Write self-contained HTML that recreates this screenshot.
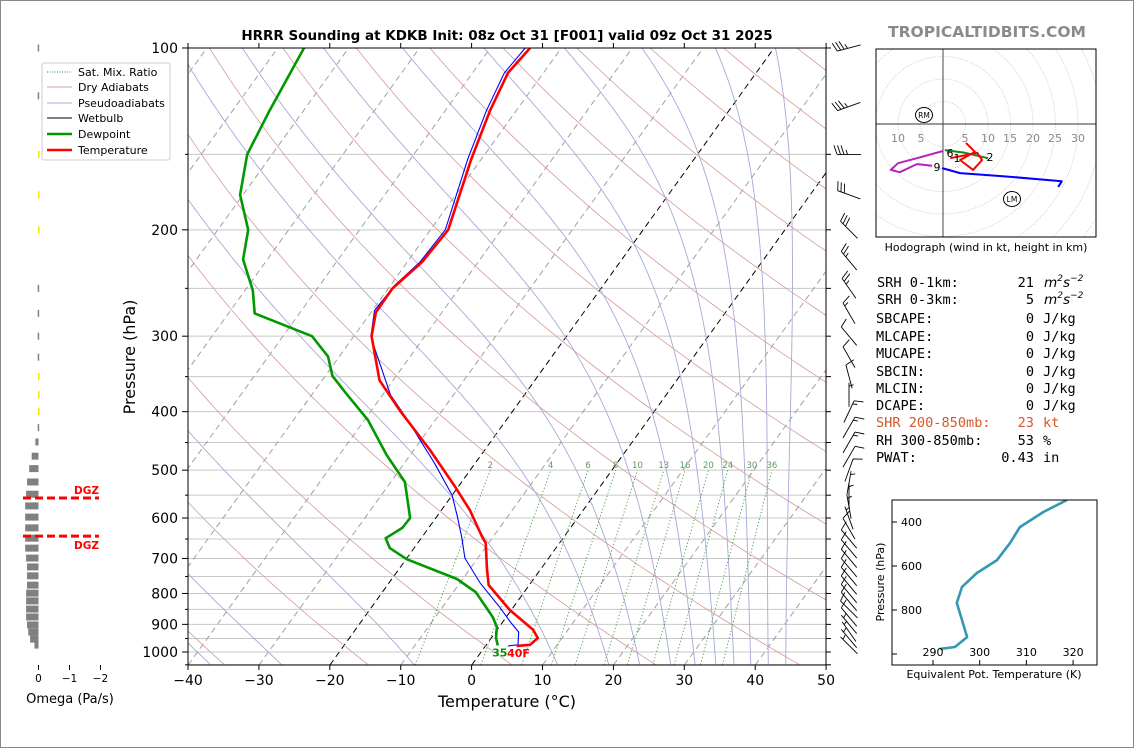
<!DOCTYPE html>
<html><head><meta charset="utf-8"><style>
html,body{margin:0;padding:0;background:#fff}
svg{display:block;font-family:"DejaVu Sans","Liberation Sans",sans-serif}
</style></head><body>
<svg id="s" width="1134" height="748" viewBox="0 0 1134 748" xmlns="http://www.w3.org/2000/svg">
<rect x="0.5" y="0.5" width="1133" height="747" fill="#fff" stroke="#888"/>
<defs>
<clipPath id="mainclip"><rect x="188" y="48" width="638" height="617"/></clipPath>
<clipPath id="hodoclip"><rect x="876" y="49" width="220" height="188"/></clipPath>
<clipPath id="theclip"><rect x="892" y="500" width="205" height="165"/></clipPath>
</defs>
<g id="bg" clip-path="url(#mainclip)"></g>
<g id="prof" clip-path="url(#mainclip)"></g>
<g id="axes"></g>
<g id="barbs"></g>
<g id="omega"></g>
<g id="hodo"></g>
<g id="thetae"></g>

<text x="507" y="40" text-anchor="middle" font-size="13.5" font-weight="bold">HRRR Sounding at KDKB Init: 08z Oct 31 [F001] valid 09z Oct 31 2025</text>
<text x="987" y="37" text-anchor="middle" font-size="15.5" font-weight="bold" fill="#8a8a8a">TROPICALTIDBITS.COM</text>
<text x="507" y="707" text-anchor="middle" font-size="16">Temperature (°C)</text>
<text transform="translate(135,357) rotate(-90)" text-anchor="middle" font-size="16">Pressure (hPa)</text>

<g>
<rect x="42" y="63" width="128" height="97" fill="#fff" stroke="#ccc" rx="2"/>
<line x1="47" y1="72" x2="72" y2="72" stroke="#2e8b2e" stroke-dasharray="1,1.5"/>
<text x="78" y="76" font-size="11">Sat. Mix. Ratio</text>
<line x1="47" y1="87" x2="72" y2="87" stroke="#d9a0a0"/>
<text x="78" y="91" font-size="11">Dry Adiabats</text>
<line x1="47" y1="103" x2="72" y2="103" stroke="#a8a8d8"/>
<text x="78" y="107" font-size="11">Pseudoadiabats</text>
<line x1="47" y1="118" x2="72" y2="118" stroke="#000"/>
<text x="78" y="122" font-size="11">Wetbulb</text>
<line x1="47" y1="134" x2="72" y2="134" stroke="#009900" stroke-width="2.5"/>
<text x="78" y="138" font-size="11">Dewpoint</text>
<line x1="47" y1="150" x2="72" y2="150" stroke="#ff0000" stroke-width="2.5"/>
<text x="78" y="154" font-size="11">Temperature</text>
</g>

<g font-family="DejaVu Sans Mono,Liberation Mono,monospace" font-size="13.6">
<text x="877" y="287">SRH 0-1km:</text><text x="1034" y="287" text-anchor="end">21</text><text x="1044" y="287" font-style="italic" font-family="DejaVu Sans,sans-serif">m<tspan dy="-6" font-size="9">2</tspan><tspan dy="6">s</tspan><tspan dy="-6" font-size="9">−2</tspan></text>
<text x="877" y="304">SRH 0-3km:</text><text x="1034" y="304" text-anchor="end">5</text><text x="1044" y="304" font-style="italic" font-family="DejaVu Sans,sans-serif">m<tspan dy="-6" font-size="9">2</tspan><tspan dy="6">s</tspan><tspan dy="-6" font-size="9">−2</tspan></text>
<text x="876" y="323">SBCAPE:</text><text x="1034" y="323" text-anchor="end">0</text><text x="1043" y="323">J/kg</text>
<text x="876" y="341">MLCAPE:</text><text x="1034" y="341" text-anchor="end">0</text><text x="1043" y="341">J/kg</text>
<text x="876" y="358">MUCAPE:</text><text x="1034" y="358" text-anchor="end">0</text><text x="1043" y="358">J/kg</text>
<text x="876" y="376">SBCIN:</text><text x="1034" y="376" text-anchor="end">0</text><text x="1043" y="376">J/kg</text>
<text x="876" y="393">MLCIN:</text><text x="1034" y="393" text-anchor="end">0</text><text x="1043" y="393">J/kg</text>
<text x="876" y="410">DCAPE:</text><text x="1034" y="410" text-anchor="end">0</text><text x="1043" y="410">J/kg</text>
<text x="876" y="427" fill="#d4582c">SHR 200-850mb:</text><text x="1034" y="427" text-anchor="end" fill="#d4582c">23</text><text x="1043" y="427" fill="#d4582c">kt</text>
<text x="876" y="445">RH 300-850mb:</text><text x="1034" y="445" text-anchor="end">53</text><text x="1043" y="445">%</text>
<text x="876" y="462">PWAT:</text><text x="1034" y="462" text-anchor="end">0.43</text><text x="1043" y="462">in</text>
</g>
</svg>
<script>
// ---------- data ----------
const tempP = [977,973,948,919,852,775,731,660,645,582,533,463,398,355,300,274,250,226,200,153,127,110,100];
const tempT = [4.4,6.2,6.6,5.1,-0.2,-5.7,-7.5,-10.4,-11.5,-16.0,-20.4,-27.7,-36.0,-41.9,-47.5,-49.3,-49.4,-47.9,-47.5,-51.4,-53.7,-55.0,-54.4];
const dewP = [975,948,909,875,796,757,702,673,648,623,600,567,523,472,413,371,349,324,300,275,252,224,200,175,150,127,100];
const dewT = [1.7,0.7,-0.3,-1.9,-6.8,-10.8,-19.9,-23.4,-25.0,-23.7,-23.6,-25.4,-28.0,-33.3,-39.5,-45.6,-49.0,-51.6,-55.9,-66.3,-68.9,-73.4,-75.7,-80.4,-83.5,-84.8,-86.3];
const wbP = [977,973,927,895,843,769,699,645,598,550,487,413,375,316,300,272,247,226,200,153,127,110,100];
const wbT = [3.2,4.5,3.3,1.3,-1.9,-7.1,-11.8,-14.4,-17.0,-20.0,-25.7,-33.9,-38.9,-45.6,-47.6,-49.7,-49.4,-48.2,-47.9,-51.9,-54.2,-55.5,-55.1];
const barbP = [100,125,150,175,200,225,250,275,300,325,350,375,400,425,450,475,500,525,550,575,600,625,650,675,700,725,750,775,800,825,850,875,900,925,950,975];
const barbDir = [255,250,270,290,315,320,325,330,320,330,345,0,25,30,30,30,20,10,0,350,340,330,320,320,320,320,320,320,320,320,315,320,320,325,320,315];
const barbSpd = [35,35,35,30,30,25,25,15,10,10,10,5,15,15,15,10,10,5,5,5,5,10,10,10,10,10,10,10,10,10,10,10,5,5,5,5];
const omegaP = [449,474,497,523,548,573,598,623,648,673,699,723,748,775,799,823,849,875,902,927,952,974];
const omegaV = [0.1,0.22,0.3,0.37,0.4,0.43,0.43,0.43,0.43,0.43,0.4,0.37,0.37,0.37,0.4,0.4,0.4,0.4,0.37,0.33,0.27,0.13];
const omegaSmallP = [100,120,150,175,200,250,275,300,325,350,375,400,425];
const omegaSmallV = [0.01,0.01,-0.02,-0.02,-0.03,0.01,0.01,0.01,0.01,-0.02,-0.02,-0.02,0.01];
const hodoRedU = [1.6,4.2,7.6,8.7,6.7,3.8,7.1,5.1];
const hodoRedV = [-7.6,-7.1,-6.4,-8.0,-10.2,-8.0,-6.2,-4.2];
const hodoGreenU = [10,4.9,0.4];
const hodoGreenV = [-7.6,-6.4,-5.8];
const hodoMagU = [0,-5.8,-10,-11.6,-9.6,-5.8,-2.4];
const hodoMagV = [-6,-7.6,-8.7,-10.2,-10.7,-8.9,-9.3];
const hodoBlueU = [-0.2,3.8,13.3,26.4,25.6];
const hodoBlueV = [-9.8,-10.9,-11.6,-12.7,-14];
const thetaeP = [300,355,423,495,573,632,695,768,859,923,968,977];
const thetaeV = [318.7,313.6,308.6,306.5,303.7,299.4,296.2,295.1,296.4,297.3,294.7,291.5];
const tempTicks = [-40,-30,-20,-10,0,10,20,30,40,50];
const presTicks = [100,200,300,400,500,600,700,800,900,1000];
const mixRatios = [2,4,6,8,10,13,16,20,24,30,36];

// ---------- helpers ----------
const NS='http://www.w3.org/2000/svg';
function mk(parent,tag,attrs){const e=document.createElementNS(NS,tag);for(const k in attrs)e.setAttribute(k,attrs[k]);parent.appendChild(e);return e;}
const yP = p => 48 + 604*Math.log10(p/100);
const xT = (T,p) => 188 + (T+40)*7.09 + 0.72*(665 - yP(p));
function pathFrom(ps,ts){return ps.map((p,i)=>(i?'L':'M')+xT(ts[i],p).toFixed(1)+','+yP(p).toFixed(1)).join('');}
const bg=document.getElementById('bg'), prof=document.getElementById('prof'), axes=document.getElementById('axes');

for(let p=100;p<=1050;p+=50){
  const l=mk(bg,'line',{x1:188,x2:826,y1:yP(p),y2:yP(p),stroke:'#c8c8c8','stroke-width':1});
  
  
}
for(let T=-130;T<=50;T+=10){
  const l=mk(bg,'line',{x1:xT(T,1050),y1:665,x2:xT(T,100),y2:48,stroke:(T===0||T===-20)?'#000':'#a0a0a0','stroke-width':1,'stroke-dasharray':'6,4'});
  
  
}
for(let th=195;th<=575;th+=20){
  let d='';
  for(let p=1050;p>=100;p-=10){const T=th*Math.pow(p/1000,0.2857)-273.15;d+=(d?'L':'M')+xT(T,p).toFixed(1)+','+yP(p).toFixed(1);}
  const e=mk(bg,'path',{d:d,fill:'none',stroke:'#d49a9a','stroke-width':0.8});
  
  
}
function dTdlnp(T,p){const Tc=T-273.15;const es=6.112*Math.exp(17.67*Tc/(Tc+243.5));const rs=0.622*es/(p-es);
  return (287.04*T+2.501e6*rs)/(1005.7+2.501e6*2.501e6*rs*0.622/(287.04*T*T));}
const moistStarts=[-50,-40,-30,-11,10,17.5,22,26.5,30,33,35.6,38,40.5,43];
moistStarts.forEach(t0=>{
  const pts=[];let T=t0+273.15,p=1000;
  let Td=T,pd=1000;const h0=Math.log(1050/1000)/10;for(let i=0;i<10;i++){Td+=dTdlnp(Td,pd)*h0;pd*=Math.exp(h0);}
  pts.push([1050,Td-273.15]);pts.push([1000,T-273.15]);
  while(p>100){const h=-0.01;const k1=dTdlnp(T,p);const k2=dTdlnp(T+k1*h,p*Math.exp(h));T+=0.5*(k1+k2)*h;p*=Math.exp(h);pts.push([p,T-273.15]);}
  const e=mk(bg,'path',{d:pts.map((q,i)=>(i?'L':'M')+xT(q[1],q[0]).toFixed(1)+','+yP(q[0]).toFixed(1)).join(''),fill:'none',stroke:'#a8a8d8','stroke-width':0.9});
  
  
});
const tdFromW=(w,p)=>{const e=p*w/(622+w);const l=Math.log(e/6.112);return 243.5*l/(17.67-l);};
mixRatios.forEach(w=>{
  const e=mk(bg,'line',{x1:xT(tdFromW(w,1050),1050),y1:yP(1050),x2:xT(tdFromW(w,500),500),y2:yP(500),stroke:'#3a9a3a','stroke-width':0.9,'stroke-dasharray':'1.2,2.2'});
  
  
  const t=mk(bg,'text',{x:xT(tdFromW(w,500),500),y:yP(500)-2,'text-anchor':'middle','font-size':8.5,fill:'#5a9a5a'});
  t.textContent=w;
  
  
});
let e=mk(prof,'path',{d:pathFrom(wbP,wbT),fill:'none',stroke:'#0000ff','stroke-width':1.1});


e=mk(prof,'path',{d:pathFrom(dewP,dewT),fill:'none',stroke:'#009900','stroke-width':2.6,'stroke-linejoin':'round'});


e=mk(prof,'path',{d:pathFrom(tempP,tempT),fill:'none',stroke:'#ff0000','stroke-width':2.6,'stroke-linejoin':'round'});


let t=mk(prof,'text',{x:xT(dewT[0],dewP[0])+2,y:yP(dewP[0])+11,'text-anchor':'middle','font-size':11,'font-weight':'bold',fill:'#009900'});
t.textContent='35';


t=mk(prof,'text',{x:xT(tempT[0],tempP[0])+2,y:yP(tempP[0])+11,'text-anchor':'middle','font-size':11,'font-weight':'bold',fill:'#ff0000'});
t.textContent='40F';



e=mk(axes,'rect',{x:188,y:48,width:638,height:617,fill:'none',stroke:'#000','stroke-width':1});


tempTicks.forEach(T=>{
  const x=188+(T+40)*7.09;
  mk(axes,'line',{x1:x,x2:x,y1:665,y2:670,stroke:'#000'});
  mk(axes,'line',{x1:x,x2:x,y1:48,y2:43,stroke:'#000'});
  const tt=mk(axes,'text',{x:x,y:685,'text-anchor':'middle','font-size':14});
  tt.textContent=(T<0?'−':'')+Math.abs(T);
  
  
});
for(let p=100;p<=1050;p+=50){
  const y=yP(p);const major=presTicks.includes(p);
  mk(axes,'line',{x1:188,x2:major?182:185,y1:y,y2:y,stroke:'#000'});
  mk(axes,'line',{x1:826,x2:831,y1:y,y2:y,stroke:'#000'});
  if(major){const tt=mk(axes,'text',{x:178,y:y+5,'text-anchor':'end','font-size':14});tt.textContent=p;
    
    }
}

const bgB=document.getElementById('barbs');
barbP.forEach((p,i)=>{
  const cy=yP(p),cx=849,L=24,a=barbDir[i]*Math.PI/180;
  const ux=Math.sin(a),uy=-Math.cos(a);
  const hx=cx-ux*L/2,hy=cy-uy*L/2,tx=cx+ux*L/2,ty=cy+uy*L/2;
  let d='M'+hx.toFixed(1)+','+hy.toFixed(1)+'L'+tx.toFixed(1)+','+ty.toFixed(1);
  const px=-uy,py=ux;let s=barbSpd[i],pos=0;
  while(s>=10){const bx=tx-ux*pos,by=ty-uy*pos;d+='M'+bx.toFixed(1)+','+by.toFixed(1)+'L'+(bx+px*9+ux*3).toFixed(1)+','+(by+py*9+uy*3).toFixed(1);pos+=3.5;s-=10;}
  if(s>=5){if(pos===0)pos=3.5;const bx=tx-ux*pos,by=ty-uy*pos;d+='M'+bx.toFixed(1)+','+by.toFixed(1)+'L'+(bx+px*4.5+ux*1.5).toFixed(1)+','+(by+py*4.5+uy*1.5).toFixed(1);}
  const b=mk(bgB,'path',{d:d,fill:'none',stroke:'#000','stroke-width':0.9});
  
  
});

const om=document.getElementById('omega');
const xO=v=>38.5-v*31;
omegaP.forEach((p,i)=>{
  const x=xO(omegaV[i]);
  const r=mk(om,'rect',{x:Math.min(x,38.5),y:yP(p)-3.5,width:Math.abs(38.5-x),height:7,fill:'#808080'});
  
  
});
omegaSmallP.forEach((p,i)=>{
  const v=omegaSmallV[i];
  const r=mk(om,'rect',{x:v>0?xO(v)-0.5:38,y:yP(p)-3.5,width:Math.max(1,Math.abs(v*31))+0.5,height:7,fill:v<0?'#f2e600':'#808080'});
  
  
});
[0,-1,-2].forEach(v=>{
  mk(om,'line',{x1:xO(v),x2:xO(v),y1:665,y2:670,stroke:'#000'});
  const tt=mk(om,'text',{x:xO(v),y:682,'text-anchor':'middle','font-size':10.5});
  tt.textContent=v===0?'0':'−'+Math.abs(v);
  
  
});
[556,643].forEach((p,i)=>{
  const l=mk(om,'line',{x1:23,x2:99,y1:yP(p),y2:yP(p),stroke:'#ff0000','stroke-width':3,'stroke-dasharray':'8,4'});
  
  
  const tt=mk(om,'text',{x:99,y:i===0?yP(p)-4:yP(p)+13,'text-anchor':'end','font-size':10.5,'font-weight':'bold',fill:'#ff0000'});
  tt.textContent='DGZ';
  
  
});
t=mk(om,'text',{x:70,y:703,'text-anchor':'middle','font-size':13});
t.textContent='Omega (Pa/s)';



const ho=document.getElementById('hodo');
const hcx=943,hcy=124,hs=4.5;
const hg=mk(ho,'g',{'clip-path':'url(#hodoclip)'});
for(let r=5;r<=50;r+=5){const c=mk(hg,'circle',{cx:hcx,cy:hcy,r:r*hs,fill:'none',stroke:'#c0c0c0','stroke-width':0.8,'stroke-dasharray':'1,1.5'});
  
  }
mk(hg,'line',{x1:876,x2:1096,y1:hcy,y2:hcy,stroke:'#333','stroke-width':0.9});
mk(hg,'line',{x1:hcx,x2:hcx,y1:49,y2:237,stroke:'#333','stroke-width':0.9});
[[-10,898],[-5,921],[5,965],[10,988],[15,1010],[20,1033],[25,1055],[30,1078]].forEach(q=>{
  const tt=mk(hg,'text',{x:q[1],y:142,'text-anchor':'middle','font-size':11,fill:'#888'});tt.textContent=Math.abs(q[0]);
  
  });
function hpath(us,vs){return us.map((u,i)=>(i?'L':'M')+(hcx+u*hs).toFixed(1)+','+(hcy-vs[i]*hs).toFixed(1)).join('');}
[[hodoBlueU,hodoBlueV,'#0000ff','hodo-segment-9km-plus'],[hodoMagU,hodoMagV,'#bb22bb','hodo-segment-6-9km'],[hodoGreenU,hodoGreenV,'#118811','hodo-segment-3-6km'],[hodoRedU,hodoRedV,'#ff0000','hodo-segment-0-3km']].forEach(s=>{
  const pth=mk(hg,'path',{d:hpath(s[0],s[1]),fill:'none',stroke:s[2],'stroke-width':2,'stroke-linejoin':'round'});
  
  
});
[['6',950,157],['1',957,162],['2',990,161],['9',937,171]].forEach(q=>{const tt=mk(hg,'text',{x:q[1],y:q[2],'text-anchor':'middle','font-size':11});tt.textContent=q[0];
  
  });
[['RM',924,115],['LM',1012,199]].forEach(q=>{mk(hg,'ellipse',{cx:q[1],cy:q[2],rx:8.5,ry:7.5,fill:'#fff',stroke:'#000'});
  const tt=mk(hg,'text',{x:q[1],y:q[2]+3,'text-anchor':'middle','font-size':7.5});tt.textContent=q[0];
  
  });
e=mk(ho,'rect',{x:876,y:49,width:220,height:188,fill:'none',stroke:'#000'});


t=mk(ho,'text',{x:986,y:251,'text-anchor':'middle','font-size':11});
t.textContent='Hodograph (wind in kt, height in km)';



const te=document.getElementById('thetae');
const xTh=v=>933+(v-290)*4.67, yTh=p=>522+(p-400)*0.22;
e=mk(te,'path',{'clip-path':'url(#theclip)',d:thetaeP.map((p,i)=>(i?'L':'M')+xTh(thetaeV[i]).toFixed(1)+','+yTh(p).toFixed(1)).join(''),fill:'none',stroke:'#3399b0','stroke-width':2.6,'stroke-linejoin':'round'});


e=mk(te,'rect',{x:892,y:500,width:205,height:165,fill:'none',stroke:'#000'});


[400,600,800,1000].forEach(p=>{mk(te,'line',{x1:892,x2:897,y1:yTh(p),y2:yTh(p),stroke:'#000'});
  if(p<1000){const tt=mk(te,'text',{x:901,y:yTh(p)+4,'font-size':11});tt.textContent=p;
  
  }});
[290,300,310,320].forEach(v=>{mk(te,'line',{x1:xTh(v),x2:xTh(v),y1:665,y2:660,stroke:'#000'});
  const tt=mk(te,'text',{x:xTh(v),y:656,'text-anchor':'middle','font-size':11});tt.textContent=v;
  
  });
t=mk(te,'text',{x:994,y:678,'text-anchor':'middle','font-size':11});
t.textContent='Equivalent Pot. Temperature (K)';


t=mk(te,'text',{transform:'translate(884,582) rotate(-90)','text-anchor':'middle','font-size':11});
t.textContent='Pressure (hPa)';


</script>
</body></html>
